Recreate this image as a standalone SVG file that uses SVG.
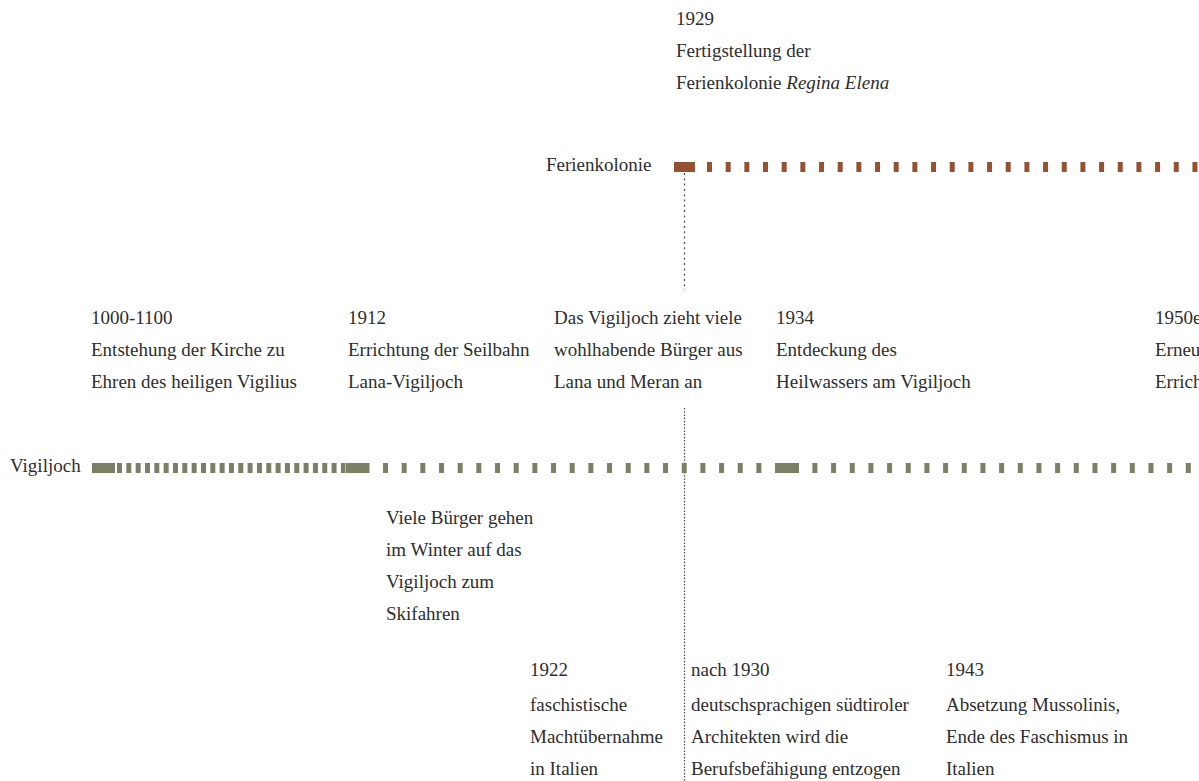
<svg xmlns="http://www.w3.org/2000/svg" width="1199" height="781" viewBox="0 0 1199 781">
<style>
text{font-family:"Liberation Serif","Times New Roman",serif;font-size:19px;fill:#2e2e2e}
.it{font-style:italic}
.g{fill:#7a7f66}
.b{fill:#955233}
.gd{stroke:#7a7f66;stroke-width:10;fill:none}
.bd{stroke:#955233;stroke-width:10;fill:none}
.vl{stroke:#555;stroke-width:1.3;fill:none}
</style>
<rect width="1199" height="781" fill="#fff"/>
<g id="connectors">
<line class="vl" x1="684.5" y1="173" x2="684.5" y2="290" stroke-dasharray="2 3.3"/>
<line class="vl" x1="684.5" y1="408" x2="684.5" y2="781" stroke-dasharray="1.6 1.6"/>
</g>
<g id="line-vigiljoch">
<text x="10" y="472">Vigiljoch</text>
<rect class="g" x="92" y="463" width="23" height="10"/>
<line class="gd" x1="117" y1="468" x2="345" y2="468" stroke-dasharray="5 4.33"/>
<rect class="g" x="345.5" y="463" width="24" height="10"/>
<line class="gd" x1="383" y1="468" x2="1199" y2="468" stroke-dasharray="5 13.67"/>
<rect class="g" x="775" y="463" width="24" height="10"/>
</g>
<g id="line-ferienkolonie">
<text x="546" y="171">Ferienkolonie</text>
<rect class="b" x="674" y="162" width="21" height="10"/>
<line class="bd" x1="707" y1="167" x2="1199" y2="167" stroke-dasharray="5 13.67"/>
</g>
<g id="ev-1929">
<text x="676" y="25">1929</text>
<text x="676" y="57">Fertigstellung der</text>
<text x="676" y="89">Ferienkolonie <tspan class="it">Regina Elena</tspan></text>
</g>
<g id="ev-1000">
<text x="91" y="324">1000-1100</text>
<text x="91" y="356">Entstehung der Kirche zu</text>
<text x="91" y="388">Ehren des heiligen Vigilius</text>
</g>
<g id="ev-1912">
<text x="348" y="324">1912</text>
<text x="348" y="356">Errichtung der Seilbahn</text>
<text x="348" y="388">Lana-Vigiljoch</text>
</g>
<g id="ev-buerger">
<text x="554" y="324">Das Vigiljoch zieht viele</text>
<text x="554" y="356">wohlhabende Bürger aus</text>
<text x="554" y="388">Lana und Meran an</text>
</g>
<g id="ev-1934">
<text x="776" y="324">1934</text>
<text x="776" y="356">Entdeckung des</text>
<text x="776" y="388">Heilwassers am Vigiljoch</text>
</g>
<g id="ev-1950">
<text x="1155" y="324">1950e</text>
<text x="1155" y="356">Erneu</text>
<text x="1155" y="388">Errich</text>
</g>
<g id="ev-ski">
<text x="386" y="524">Viele Bürger gehen</text>
<text x="386" y="556">im Winter auf das</text>
<text x="386" y="588">Vigiljoch zum</text>
<text x="386" y="620">Skifahren</text>
</g>
<g id="ev-1922">
<text x="530" y="676">1922</text>
<text x="530" y="711">faschistische</text>
<text x="530" y="743">Machtübernahme</text>
<text x="530" y="775">in Italien</text>
</g>
<g id="ev-1930">
<text x="691" y="676">nach 1930</text>
<text x="691" y="711">deutschsprachigen südtiroler</text>
<text x="691" y="743">Architekten wird die</text>
<text x="691" y="775">Berufsbefähigung entzogen</text>
</g>
<g id="ev-1943">
<text x="946" y="676">1943</text>
<text x="946" y="711">Absetzung Mussolinis,</text>
<text x="946" y="743">Ende des Faschismus in</text>
<text x="946" y="775">Italien</text>
</g>
</svg>
